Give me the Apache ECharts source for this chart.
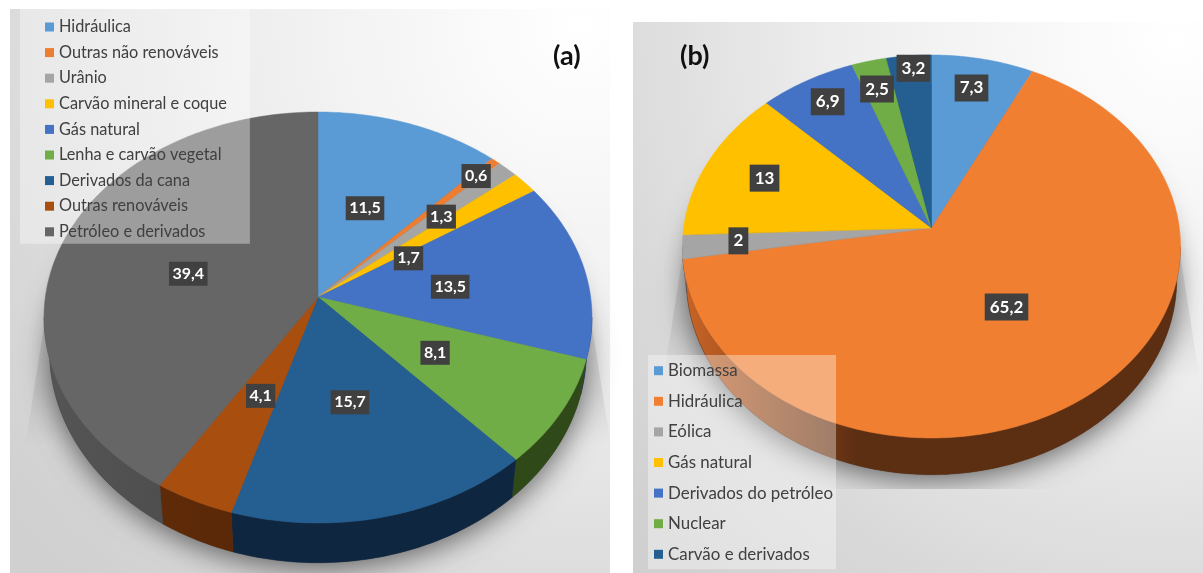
<!DOCTYPE html>
<html lang="pt">
<head>
<meta charset="utf-8">
<title>Matriz energética e matriz elétrica</title>
<script src="https://cdn.jsdelivr.net/npm/echarts@6/dist/echarts.min.js"></script>
<style>
  html, body { margin: 0; padding: 0; background: #fff; }
  #chart { width: 1203px; height: 573px; }
</style>
</head>
<body>
<div id="chart"></div>
<script>
// (a) matriz energética
const categoriesA = ['Hidráulica', 'Outras não renováveis', 'Urânio', 'Carvão mineral e coque', 'Gás natural',
  'Lenha e carvão vegetal', 'Derivados da cana', 'Outras renováveis', 'Petróleo e derivados'];
const valuesA = [11.5, 0.6, 1.3, 1.7, 13.5, 8.1, 15.7, 4.1, 39.4];
const topColoursA = ['#5b9bd5', '#ed7d31', '#a5a5a5', '#ffc000', '#4472c4', '#70ad47', '#255e91', '#a84f10', '#666666'];
const wallColoursA = ['#2a4a68', '#6a3512', '#4c4c4c', '#6f5400', '#1f3560', '#2f4a18', '#0f2640', '#5a2808', '#4a4a4a'];
const labelRadiusA = [0.49, 0.883, 0.625, 0.39, 0.49, 0.496, 0.504, 0.505, 0.495];
const labelTurnA = [0, 0, 1, 6.7, 2, 0, 0, -1, -2.6];

// (b) matriz elétrica
const categoriesB = ['Biomassa', 'Hidráulica', 'Eólica', 'Gás natural', 'Derivados do petróleo', 'Nuclear', 'Carvão e derivados'];
const valuesB = [7.3, 65.2, 2, 13, 6.9, 2.5, 3.2];
const topColoursB = ['#5b9bd5', '#f17f32', '#a5a5a5', '#ffc000', '#4472c4', '#70ad47', '#255e91'];
const wallColoursB = ['#2a4a68', '#5c2e12', '#4c4c4c', '#6f5400', '#1f3560', '#2f4a18', '#0f2640'];
const labelRadiusB = [0.814, 0.495, 0.777, 0.742, 0.84, 0.823, 0.92];
const labelTurnB = [-0.8, 0.5, 0.7, 0, 0.7, -0.7, 0.8];

// Perspective disc: back and front are the screen distances from the hub to the far and near rim.
function makePie(cfg) {
  const k = (cfg.front - cfg.back) / (cfg.front + cfg.back);
  const b = cfg.front * (1 - k);
  const a = cfg.halfWidth * Math.sqrt(1 - k * k);
  const total = cfg.values.reduce((s, v) => s + v, 0);
  const toXY = (deg, r) => {
    const t = deg * Math.PI / 180;
    const u = r * Math.sin(t), v = -r * Math.cos(t);
    const w = 1 - k * v;
    return [cfg.cx + a * u / w, cfg.cy + b * v / w];
  };
  const toWallXY = (deg) => {
    const p = toXY(deg, 1);
    return [cfg.cx + (p[0] - cfg.cx) * cfg.wallShrink, cfg.cy + (p[1] - cfg.cy) * cfg.wallStretch + cfg.wallDrop];
  };
  const sideLimit = 90 + Math.asin(k) * 180 / Math.PI;
  return Object.assign({}, cfg, { total, toXY, toWallXY, sideLimit });
}

const pieA = makePie({
  cx: 318, cy: 297, back: 185, front: 226, halfWidth: 274,
  wallShrink: 0.98, wallStretch: 1.03, wallDrop: 33, wallGlow: 1.15,
  categories: categoriesA, values: valuesA, tops: topColoursA, walls: wallColoursA,
  labelRadius: labelRadiusA, labelTurn: labelTurnA,
  fontSize: 16, pad: [4, 3.5], shadowFloor: 600
});
const pieB = makePie({
  cx: 931.5, cy: 228, back: 173, front: 210, halfWidth: 249,
  wallShrink: 0.985, wallStretch: 1.02, wallDrop: 32.5, wallGlow: 2.2,
  categories: categoriesB, values: valuesB, tops: topColoursB, walls: wallColoursB,
  labelRadius: labelRadiusB, labelTurn: labelTurnB,
  fontSize: 17, pad: [5, 5], shadowFloor: 489
});

const FONT = 'Lato, "Open Sans", sans-serif';

function arcPoints(fn, from, to) {
  const pts = [];
  const steps = Math.max(2, Math.ceil(Math.abs(to - from)));
  for (let i = 0; i <= steps; i++) pts.push(fn(from + (to - from) * i / steps));
  return pts;
}

function brighten(hex, f) {
  const c = echarts.color.parse(hex);
  return `rgb(${Math.min(255, c[0] * f) | 0},${Math.min(255, c[1] * f) | 0},${Math.min(255, c[2] * f) | 0})`;
}

// One custom series per slice: wall, top face and value tag.
function sliceSeries(pie, i) {
  const before = pie.values.slice(0, i).reduce((s, v) => s + v, 0);
  return {
    type: 'custom',
    name: pie.categories[i],
    coordinateSystem: 'none',
    itemStyle: { color: pie.tops[i] },
    data: [pie.values[i]],
    silent: true,
    renderItem: (params, api) => {
      const value = api.value(0);
      const start = before / pie.total * 360;
      const end = start + value / pie.total * 360;
      const mid = (start + end) / 2;
      const children = [];

      const wallFrom = Math.max(start, pie.sideLimit);
      const wallTo = Math.min(end, 360 - pie.sideLimit);
      if (wallTo > wallFrom) {
        const upper = arcPoints(d => pie.toXY(d, 1), wallFrom, wallTo);
        const lower = arcPoints(pie.toWallXY, wallTo, wallFrom);
        children.push({
          type: 'polygon', z2: 1,
          shape: { points: upper.concat(lower) },
          style: {
            fill: new echarts.graphic.LinearGradient(pie.cx - pie.halfWidth, 0, pie.cx - pie.halfWidth * 0.3, 0, [
              { offset: 0, color: brighten(pie.walls[i], pie.wallGlow) },
              { offset: 1, color: pie.walls[i] }
            ], true),
            stroke: pie.walls[i], lineWidth: 0.4
          }
        });
      }

      children.push({
        type: 'polygon', z2: 2,
        shape: { points: [pie.toXY(0, 0)].concat(arcPoints(d => pie.toXY(d, 1), start, end)) },
        style: { fill: pie.tops[i], stroke: pie.tops[i], lineWidth: 0.5 }
      });

      const spot = pie.toXY(mid + pie.labelTurn[i], pie.labelRadius[i]);
      children.push({
        type: 'text', z2: 10,
        x: spot[0], y: spot[1],
        style: {
          text: String(value).replace('.', ','),
          fill: '#ffffff', font: `bold ${pie.fontSize}px ${FONT}`,
          align: 'center', verticalAlign: 'middle',
          backgroundColor: '#404040', padding: pie.pad,
          boxShadowColor: 'rgba(0,0,0,0.6)', boxShadowBlur: 4, boxShadowOffsetX: 2, boxShadowOffsetY: 2
        }
      });
      return { type: 'group', children };
    }
  };
}

// Soft cast shadow beneath a disc.
function shadowSeries(pie) {
  const ring = arcPoints(pie.toWallXY, 0, 360);
  const w = pie.halfWidth;
  return {
    type: 'custom',
    name: 'sombra',
    coordinateSystem: 'none',
    data: [0],
    silent: true,
    z: 1,
    renderItem: () => ({
      type: 'group',
      children: [
        {
          type: 'polygon',
          shape: { points: [[pie.cx - w + 3, pie.cy + 10], [pie.cx + w - 3, pie.cy + 10], [pie.cx + w + 19, pie.cy + 150], [pie.cx - w - 19, pie.cy + 150]] },
          style: {
            fill: new echarts.graphic.LinearGradient(0, pie.cy + 10, 0, pie.cy + 150, [
              { offset: 0, color: 'rgba(0,0,0,0.10)' },
              { offset: 0.6, color: 'rgba(0,0,0,0.08)' },
              { offset: 1, color: 'rgba(0,0,0,0)' }
            ], true)
          }
        },
        {
          type: 'polygon',
          shape: { points: ring },
          clipPath: { type: 'rect', shape: { x: pie.cx - w - 60, y: 0, width: 2 * w + 120, height: pie.shadowFloor } },
          style: { fill: '#555', shadowBlur: 28, shadowColor: 'rgba(0,0,0,0.55)', shadowOffsetY: 6 }
        }
      ]
    })
  };
}

function panel(x, y, width, height) {
  return {
    type: 'rect', z: -10,
    shape: { x, y, width, height },
    style: {
      fill: new echarts.graphic.RadialGradient(0.95, 0.03, 1.32, [
        { offset: 0, color: '#ffffff' },
        { offset: 0.45, color: '#eeeeee' },
        { offset: 0.8, color: '#d9d9d9' },
        { offset: 1, color: '#d0d0d0' }
      ])
    }
  };
}

function legendFor(pie, left, top, padding, itemGap, fontSize) {
  return {
    left, top, padding, itemGap,
    height: 400,
    orient: 'vertical',
    icon: 'rect',
    itemWidth: 9, itemHeight: 9,
    selectedMode: false,
    backgroundColor: 'rgba(255,255,255,0.36)',
    textStyle: { color: '#404040', fontFamily: FONT, fontSize },
    data: pie.categories.map((name, i) => ({ name, itemStyle: { color: pie.tops[i] } }))
  };
}

const chart = echarts.init(document.getElementById('chart'), null, { renderer: 'canvas' });
chart.setOption({
  animation: false,
  backgroundColor: '#ffffff',
  title: [
    { text: '(a)', left: 553, top: 43, padding: 0, textStyle: { color: '#111', fontFamily: FONT, fontWeight: 'bold', fontSize: 27 } },
    { text: '(b)', left: 680, top: 43, padding: 0, textStyle: { color: '#111', fontFamily: FONT, fontWeight: 'bold', fontSize: 27 } }
  ],
  graphic: { elements: [panel(10, 9, 600, 564), panel(633, 22, 570, 551)] },
  legend: [
    legendFor(pieA, 20, 9, [10, 23, 4, 25], 9.6, 16.3),
    legendFor(pieB, 648, 355, [7.2, 3, 6.5, 6], 13.6, 16.9)
  ],
  series: [shadowSeries(pieA), shadowSeries(pieB)]
    .concat(pieA.values.map((_, i) => sliceSeries(pieA, i)))
    .concat(pieB.values.map((_, i) => sliceSeries(pieB, i)))
});
</script>
</body>
</html>
